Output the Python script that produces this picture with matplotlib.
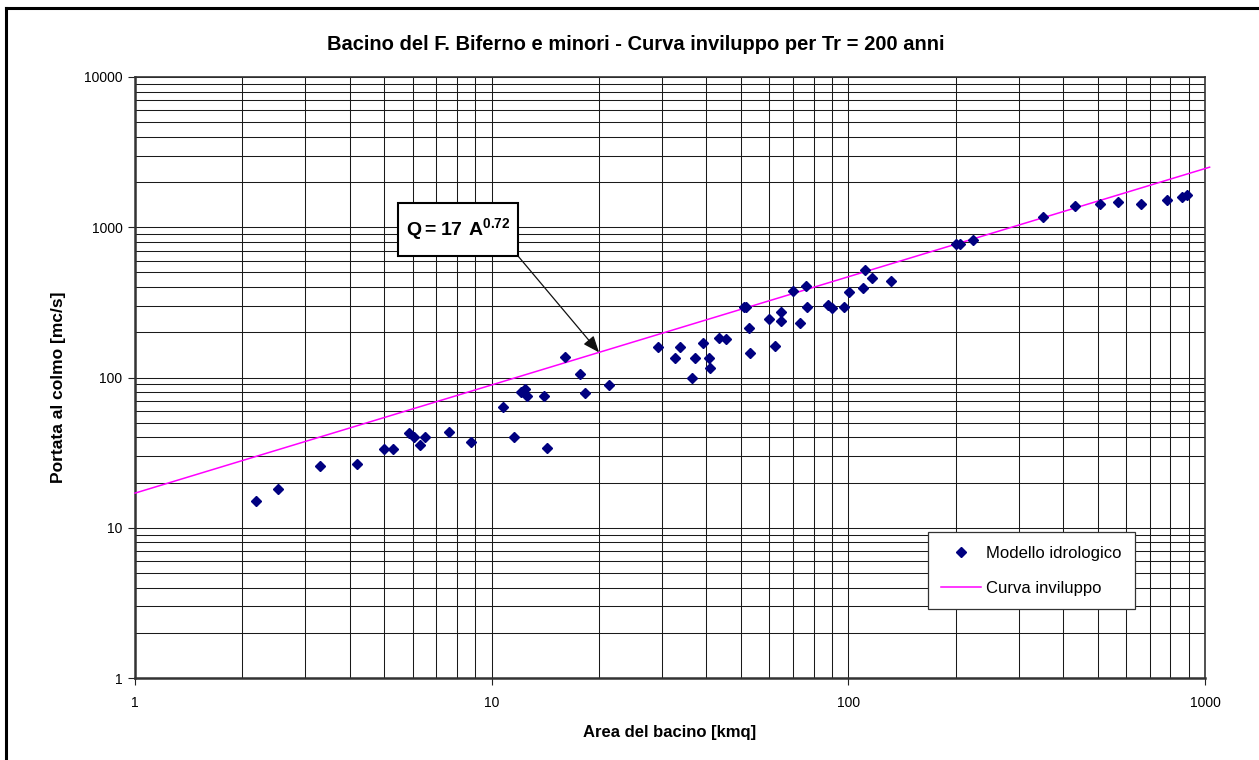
import numpy as np
import matplotlib
matplotlib.use("Agg")
import matplotlib.pyplot as plt
from matplotlib.lines import Line2D
from matplotlib.patches import Rectangle
from matplotlib.ticker import LogLocator, NullFormatter, FixedLocator, FixedFormatter

plt.rcParams['font.family'] = ['Liberation Sans', 'DejaVu Sans']
plt.rcParams['mathtext.fontset'] = 'custom'
plt.rcParams['mathtext.rm'] = 'Liberation Sans'
plt.rcParams['mathtext.bf'] = 'Liberation Sans:bold'

# ---- data ----
area = [2.19, 2.51, 3.30, 4.19, 4.99, 5.30, 5.88, 6.07, 6.30, 6.49,
        7.59, 8.75, 10.76, 11.57, 12.06, 12.41, 12.59, 14.05, 14.3, 16.09,
        17.73, 18.31, 21.33, 29.27, 32.66, 33.74, 36.38, 37.17, 39.21, 40.74,
        40.9, 43.47, 45.4, 51.0, 51.6, 52.7, 53.0, 59.9, 62.4, 64.7,
        64.7, 69.8, 73.2, 75.9, 76.4, 87.9, 89.8, 97.0, 100.2, 109.7,
        111.4, 116.3, 131.7, 200.4, 205.6, 224, 350.8, 431, 508.7, 570.4,
        660.3, 783.8, 860.3, 891.7]
portata = [15.1, 18.1, 25.6, 26.7, 33.3, 33.4, 42.9, 40.4, 35.5, 40.4,
           43.2, 37.4, 63.9, 40.4, 80.1, 83.4, 75.3, 75.7, 33.9, 136.9,
           106, 78.9, 89.1, 159.6, 135.5, 158.8, 99.2, 134.9, 169.7, 135.5,
           115.7, 182.4, 179.6, 293, 293, 213.5, 146.3, 246, 162.8, 274,
           237.7, 376.6, 230.5, 404.5, 293, 302.4, 288.8, 293, 370.8, 392.4,
           519.4, 459.4, 440.7, 773.5, 773.5, 818.8, 1170, 1392, 1435, 1473,
           1428, 1525, 1582, 1632]
coef = 17
expo = 0.72
curve_area = np.array([1.0, 1030.0])
curve_q = coef * curve_area ** expo

x_ticks = [1, 10, 100, 1000]
x_labels = ['1', '10', '100', '1000']
y_ticks = [1, 10, 100, 1000, 10000]
y_labels = ['1', '10', '100', '1000', '10000']

# ---- figure ----
W, H = 1259, 760
fig = plt.figure(figsize=(W / 100, H / 100), dpi=100)
ax = fig.add_axes([135 / W, (H - 678) / H, 1070 / W, 601 / H])
ax.set_xscale('log')
ax.set_yscale('log')
ax.set_xlim(1, 1000)
ax.set_ylim(1, 10000)

ax.xaxis.set_major_locator(FixedLocator(x_ticks))
ax.xaxis.set_major_formatter(FixedFormatter(x_labels))
ax.yaxis.set_major_locator(FixedLocator(y_ticks))
ax.yaxis.set_major_formatter(FixedFormatter(y_labels))
ax.xaxis.set_minor_locator(LogLocator(base=10, subs=np.arange(2, 10), numticks=20))
ax.yaxis.set_minor_locator(LogLocator(base=10, subs=np.arange(2, 10), numticks=20))
ax.xaxis.set_minor_formatter(NullFormatter())
ax.yaxis.set_minor_formatter(NullFormatter())

ax.grid(True, which='both', color='#1a1a1a', linewidth=0.75)
ax.set_axisbelow(True)
ax.tick_params(which='major', direction='out', length=5, width=0.8,
               labelsize=10, pad=4, colors='#222222', labelcolor='black')
ax.tick_params(which='minor', length=0)
ax.tick_params(axis='x', pad=8)
for s in ['left', 'bottom']:
    ax.spines[s].set_linewidth(1.8)
    ax.spines[s].set_color('#333333')
for s in ['top', 'right']:
    ax.spines[s].set_linewidth(1.2)
    ax.spines[s].set_color('#333333')

ax.plot(curve_area, curve_q, color='#FF00FF', linewidth=1.1, clip_on=False, zorder=3)
ax.plot(area, portata, linestyle='none', marker='D', markersize=5.6,
        color='#000080', markeredgecolor='#000080', zorder=4)

# title and labels
fig.text(636 / W, 1 - 45 / H, 'Bacino del F. Biferno e minori - Curva inviluppo per Tr = 200 anni',
         ha='center', va='center', fontsize=14.5, fontweight='bold')
fig.text(670 / W, 1 - 733 / H, 'Area del bacino [kmq]', ha='center', va='center',
         fontsize=12, fontweight='bold')
fig.text(59 / W, 1 - 387 / H, 'Portata al colmo [mc/s]', ha='center', va='center',
         rotation=90, fontsize=12.5, fontweight='bold')

# equation box with arrow
bx0, by0 = (398 - 135) / 1070, (678 - 256) / 601
bw, bh = 120 / 1070, 53 / 601
ax.add_patch(Rectangle((bx0, by0), bw, bh, transform=ax.transAxes, facecolor='white',
                       edgecolor='black', linewidth=1.5, zorder=6, clip_on=False))
ax.text(bx0 + bw / 2, by0 + bh / 2, r'$\mathbf{Q = 17\ A^{0.72}}$', transform=ax.transAxes,
        ha='center', va='center', fontsize=14, zorder=7)
tip_x = 20
ax.annotate('', xy=(tip_x, coef * tip_x ** expo), xycoords='data',
            xytext=(bx0 + bw, by0), textcoords='axes fraction',
            arrowprops=dict(arrowstyle='-|>,head_length=1.0,head_width=0.4',
                            color='#111111', linewidth=0.9, shrinkA=0, shrinkB=0),
            zorder=5)

# legend
handles = [Line2D([], [], linestyle='none', marker='D', markersize=5.6, color='#000080'),
           Line2D([], [], color='#FF00FF', linewidth=1.1)]
leg = ax.legend(handles, ['Modello idrologico', 'Curva inviluppo'],
                loc='lower left', bbox_to_anchor=((928 - 135) / 1070, (678 - 609) / 601),
                frameon=True, fancybox=False, framealpha=1, edgecolor='#333333',
                fontsize=12, labelspacing=1.2, handlelength=2.4, handletextpad=0.3,
                borderpad=0.8, borderaxespad=0)
leg.get_frame().set_linewidth(0.9)
leg.set_zorder(8)

# page frame (left and top)
fig.add_artist(Line2D([6 / W, 6 / W], [0, 1 - 8 / H], transform=fig.transFigure,
                      color='black', linewidth=2.2))
fig.add_artist(Line2D([6 / W, 1], [1 - 8 / H, 1 - 8 / H], transform=fig.transFigure,
                      color='black', linewidth=2.2))

fig.savefig('out.png', dpi=100)
